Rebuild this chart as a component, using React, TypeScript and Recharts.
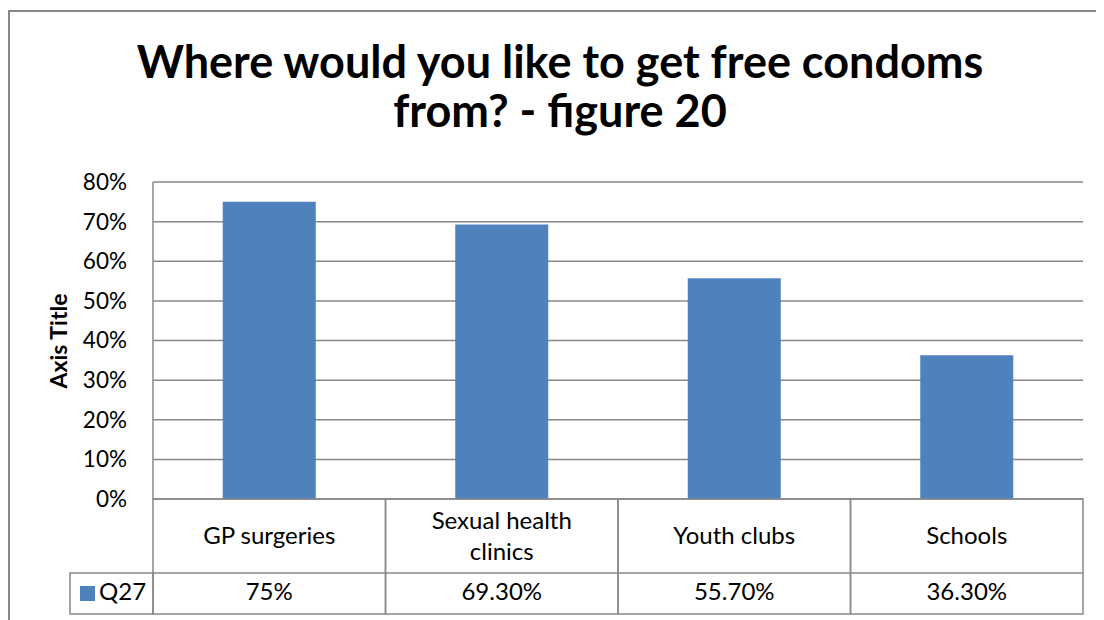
import React from 'react';
import { BarChart, Bar, XAxis, YAxis, CartesianGrid } from 'recharts';

const categories = ['GP surgeries', 'Sexual health clinics', 'Youth clubs', 'Schools'];
const q27Values = [0.75, 0.693, 0.557, 0.363];
const q27Labels = ['75%', '69.30%', '55.70%', '36.30%'];
const yTicks = [0, 0.1, 0.2, 0.3, 0.4, 0.5, 0.6, 0.7, 0.8];
const seriesName = 'Q27';

const data = categories.map((name, i) => ({ name, q27: q27Values[i], label: q27Labels[i] }));

const W = 1096;
const H = 612;
const PLOT_LEFT = 145;
const PLOT_RIGHT = 21;
const PLOT_W = W - PLOT_LEFT - PLOT_RIGHT;
const LINE = '#888888';
const BLUE = '#4F81BD';
const FONT = 'Lato, "Open Sans", sans-serif';

// split long labels into lines of ~14 chars, like the excel data table does
const wrap = (text: string, max = 14) => {
  const lines: string[] = [];
  let cur = '';
  text.split(' ').forEach((w) => {
    if (cur && (cur + ' ' + w).length > max) {
      lines.push(cur);
      cur = w;
    } else {
      cur = cur ? cur + ' ' + w : w;
    }
  });
  if (cur) lines.push(cur);
  return lines;
};

const TableTick = (props: any) => {
  const { x, y, payload, index } = props;
  const bw = PLOT_W / categories.length;
  const left = x - bw / 2;
  const row1 = 74;
  const row2 = 115;
  const lines = wrap(String(payload.value));
  const lh = 31;
  const firstBase = y + row1 / 2 + 8 - ((lines.length - 1) * lh) / 2;
  return (
    <g>
      <rect x={left} y={y} width={bw} height={row2} fill="none" stroke={LINE} strokeWidth={1.5} />
      <line x1={left} x2={left + bw} y1={y + row1} y2={y + row1} stroke={LINE} strokeWidth={1.5} />
      {lines.map((l, i) => (
        <text key={i} x={x} y={firstBase + i * lh} textAnchor="middle" fontSize={24} fontFamily={FONT} fill="#000">
          {l}
        </text>
      ))}
      <text x={x} y={y + 101} textAnchor="middle" fontSize={24} fontFamily={FONT} fill="#000">
        {data[index].label}
      </text>
      {index === 0 && (
        <g>
          <rect x={left - 83} y={y + row1} width={83} height={row2 - row1} fill="none" stroke={LINE} strokeWidth={1.5} />
          <rect x={left - 73} y={y + row1 + 13} width={15} height={15} fill={BLUE} />
          <text x={left - 54} y={y + 101} fontSize={24} fontFamily={FONT} fill="#000">
            {seriesName}
          </text>
        </g>
      )}
    </g>
  );
};

export default function App() {
  return (
    <div style={{ position: 'relative', width: W, height: H, background: '#fff' }}>
      <BarChart
        width={W}
        height={H}
        data={data}
        margin={{ top: 174, right: PLOT_RIGHT, bottom: 6, left: 0 }}
        barCategoryGap="30%"
      >
        <CartesianGrid vertical={false} stroke={LINE} strokeWidth={1.5} />
        <XAxis
          dataKey="name"
          height={115}
          tickSize={0}
          tickMargin={0}
          axisLine={false}
          tickLine={false}
          tick={<TableTick />}
          interval={0}
        />
        <YAxis
          width={PLOT_LEFT}
          domain={[0, 0.8]}
          ticks={yTicks}
          tickFormatter={(v: number) => `${Math.round(v * 100)}%`}
          tickSize={0}
          tickMargin={26}
          tickLine={false}
          axisLine={{ stroke: LINE, strokeWidth: 1.5 }}
          tick={{ fontSize: 22.5, fontFamily: FONT, fill: '#000' }}
        />
        <Bar dataKey="q27" name={seriesName} fill={BLUE} isAnimationActive={false} />
      </BarChart>
      <svg width={W} height={H} style={{ position: 'absolute', left: 0, top: 0, pointerEvents: 'none' }}>
        <line x1={1} x2={1} y1={3} y2={H + 8} stroke={LINE} strokeWidth={2} />
        <line x1={0} x2={W + 8} y1={3} y2={3} stroke={LINE} strokeWidth={2} />
        <text x={552} y={70} textAnchor="middle" fontSize={45} fontWeight="bold" fontFamily={FONT} fill="#000">
          Where would you like to get free condoms
        </text>
        <text x={552} y={119} textAnchor="middle" fontSize={45} fontWeight="bold" fontFamily={FONT} fill="#000">
          from? - figure 20
        </text>
        <text
          x={0}
          y={0}
          transform="translate(59 333) rotate(-90)"
          textAnchor="middle"
          fontSize={23}
          fontWeight="bold"
          fontFamily={FONT}
          fill="#000"
        >
          Axis Title
        </text>
      </svg>
    </div>
  );
}
